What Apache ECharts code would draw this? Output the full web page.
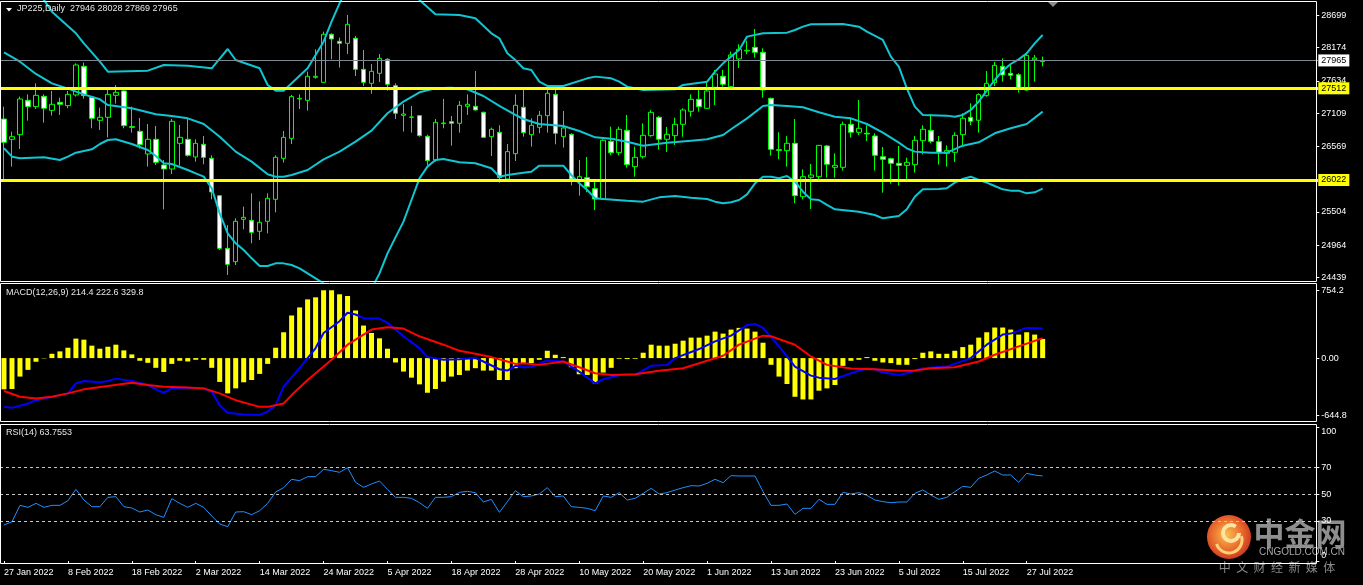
<!DOCTYPE html>
<html><head><meta charset="utf-8">
<script src="https://cdn.jsdelivr.net/npm/echarts@6/dist/echarts.min.js"></script>
<style>html,body{margin:0;padding:0;background:#000;}#c{width:1363px;height:585px;}</style>
</head><body><div id="c"></div>
<script>
const dates = ['27 Jan 2022','28 Jan 2022','31 Jan 2022',
'1 Feb 2022','2 Feb 2022','3 Feb 2022','4 Feb 2022','7 Feb 2022','8 Feb 2022','9 Feb 2022','10 Feb 2022','11 Feb 2022','14 Feb 2022','15 Feb 2022','16 Feb 2022','17 Feb 2022','18 Feb 2022','21 Feb 2022','22 Feb 2022','23 Feb 2022','24 Feb 2022','25 Feb 2022','28 Feb 2022',
'1 Mar 2022','2 Mar 2022','3 Mar 2022','4 Mar 2022','7 Mar 2022','8 Mar 2022','9 Mar 2022','10 Mar 2022','11 Mar 2022','14 Mar 2022','15 Mar 2022','16 Mar 2022','17 Mar 2022','18 Mar 2022','21 Mar 2022','22 Mar 2022','23 Mar 2022','24 Mar 2022','25 Mar 2022','28 Mar 2022','29 Mar 2022','30 Mar 2022','31 Mar 2022',
'1 Apr 2022','4 Apr 2022','5 Apr 2022','6 Apr 2022','7 Apr 2022','8 Apr 2022','11 Apr 2022','12 Apr 2022','13 Apr 2022','14 Apr 2022','18 Apr 2022','19 Apr 2022','20 Apr 2022','21 Apr 2022','22 Apr 2022','25 Apr 2022','26 Apr 2022','27 Apr 2022','28 Apr 2022','29 Apr 2022',
'2 May 2022','3 May 2022','4 May 2022','5 May 2022','6 May 2022','9 May 2022','10 May 2022','11 May 2022','12 May 2022','13 May 2022','16 May 2022','17 May 2022','18 May 2022','19 May 2022','20 May 2022','23 May 2022','24 May 2022','25 May 2022','26 May 2022','27 May 2022','30 May 2022','31 May 2022',
'1 Jun 2022','2 Jun 2022','3 Jun 2022','6 Jun 2022','7 Jun 2022','8 Jun 2022','9 Jun 2022','10 Jun 2022','13 Jun 2022','14 Jun 2022','15 Jun 2022','16 Jun 2022','17 Jun 2022','20 Jun 2022','21 Jun 2022','22 Jun 2022','23 Jun 2022','24 Jun 2022','27 Jun 2022','28 Jun 2022','29 Jun 2022','30 Jun 2022',
'1 Jul 2022','4 Jul 2022','5 Jul 2022','6 Jul 2022','7 Jul 2022','8 Jul 2022','11 Jul 2022','12 Jul 2022','13 Jul 2022','14 Jul 2022','15 Jul 2022','18 Jul 2022','19 Jul 2022','20 Jul 2022','21 Jul 2022','22 Jul 2022','25 Jul 2022','26 Jul 2022','27 Jul 2022','28 Jul 2022','29 Jul 2022'];

const open = [27013,26683,26759,27317,27214,27382,27154,27284,27230,27404,27870,27366,26992,27041,27398,27469,26889,26813,26445,26683,
26266,26201,26618,26683,26396,26602,26374,25767,24911,24695,25383,25366,25188,25350,25708,26374,26699,27339,27317,27691,
27609,28390,28276,28243,28325,27821,27593,27756,27983,27555,27073,27041,27068,26732,26347,26938,26970,26943,27219,27219,
27122,26726,26797,26038,26450,27203,26759,26878,27068,27414,26726,26764,25995,26060,25881,25713,26650,26466,26829,26239,
26401,26743,27041,26683,26743,26927,27138,27333,27187,27528,27707,27539,27989,28119,28178,28097,27349,26515,26499,26618,
25751,26065,26076,26575,26228,26228,26927,26797,26781,26737,26401,26369,26293,26260,26271,26661,26829,26645,26455,26472,
26759,27041,26992,27393,27604,27870,27756,27734,27485,27975,27946];
const high = [27214,26808,27377,27414,27593,27414,27469,27360,27469,27918,27929,27377,27198,27496,27566,27496,27214,27030,26932,26900,
26347,27013,26916,27019,26683,26737,26423,25778,25291,25399,25589,25805,25675,25805,26423,26818,27404,27414,27783,28146,
28433,28406,28335,28704,28363,28135,27907,28070,28000,27593,27257,27225,27079,26759,27013,27339,27062,27306,27414,27793,
27133,26873,26911,26607,27414,27496,27024,27144,27496,27485,27144,26781,26347,26396,25995,26683,26889,26889,27079,26564,
26943,27160,27062,26884,27035,27187,27414,27485,27620,27810,27810,28108,28227,28287,28476,28162,27360,26797,26737,27013,
26195,26282,26590,26591,26455,26970,27024,27322,26911,26781,26558,26385,26575,26385,26737,26911,27095,26737,26585,26797,
27106,27268,27431,27793,27940,28000,27891,27756,28103,28054,28028];
const low = [26022,26239,26526,26986,27176,26954,27068,27079,27187,27377,27344,26862,26835,26715,27263,26862,26791,26531,26239,26266,
25545,26120,26255,26401,26320,26277,25708,24884,24478,24640,25220,24993,25047,25155,25496,26304,26607,27176,27149,27669,
27604,27983,27848,28070,27712,27550,27425,27615,27474,27013,26808,26791,26726,26266,26320,26862,26580,26791,27079,27154,
26710,26412,25979,26030,26331,26726,26564,26781,26791,26602,26548,25935,25767,25822,25534,25697,26428,26423,26222,26076,
26369,26726,26515,26477,26591,26726,27051,27133,27180,27241,27539,27528,27842,28065,28010,27360,26418,26358,26239,25643,
25708,25551,26038,26060,26060,26174,26710,26753,26656,26174,25816,25962,25930,26022,26141,26439,26618,26271,26239,26315,
26564,26916,26791,27377,27550,27620,27658,27442,27474,27620,27869];
const close = [26634,26726,27339,27214,27398,27187,27252,27252,27414,27891,27393,27024,27041,27414,27447,26905,26878,26596,26683,26309,
26201,26976,26715,26423,26618,26390,25827,24911,24651,25350,25415,25171,25334,25724,26390,26715,27377,27349,27707,27707,
28390,28314,28243,28552,27821,27609,27788,28000,27577,27106,27095,27046,26743,26336,26959,26948,26943,27236,27252,27160,
26715,26846,26060,26483,27236,26791,26911,27073,27431,26781,26867,26038,26076,25914,25713,26667,26466,26846,26271,26390,
26748,27122,26683,26764,26927,27160,27333,27214,27469,27745,27577,28054,28146,28130,28097,27485,26520,26504,26618,25767,
26076,26103,26585,26277,26260,26927,26797,26862,26770,26423,26358,26293,26260,26309,26667,26846,26650,26472,26499,26748,
27024,26976,27409,27593,27886,27729,27723,27512,28048,28005,27965];

const bbUpper = [[0,29550],[5,28948],[6,28758],[9,28406],[10,28243],[12,27945],[13,27783],[18,27799],[20,27891],[23,27880],[26,27837],[27,27996],[28,28151],[29,27972],[32,27837],[33,27566],[34,27474],[35,27474],[36,27593],[38,27837],[40,28270],[41,28596],[42,28894],[43,29150],[46,29500],[50,29150],[52,28948],[54,28715],[57,28704],[59,28650],[61,28406],[62,28325],[63,28081],[64,27972],[65,27837],[66,27810],[67,27620],[68,27550],[70,27550],[73,27674],[74,27702],[76,27674],[77,27620],[78,27539],[80,27485],[84,27496],[85,27566],[88,27620],[89,27783],[90,27918],[92,28135],[93,28352],[95,28406],[98,28417],[99,28460],[100,28514],[101,28552],[105,28558],[107,28514],[108,28433],[110,28298],[111,28026],[112,27864],[113,27512],[114,27214],[115,27079],[118,27068],[119,27051],[120,27079],[121,27160],[122,27295],[123,27474],[124,27647],[125,27799],[126,27907],[127,27983],[128,28081],[129,28243],[130,28379]];
const bbMiddle = [[0,28097],[2,27945],[4,27745],[6,27593],[8,27507],[10,27414],[12,27333],[13,27241],[16,27187],[19,27089],[21,27062],[23,27024],[25,26932],[27,26726],[29,26483],[31,26320],[33,26114],[34,26076],[35,26076],[36,26103],[38,26185],[40,26358],[42,26483],[44,26645],[46,26824],[48,27106],[50,27295],[52,27447],[54,27512],[56,27523],[58,27496],[60,27387],[62,27225],[64,27079],[65,27013],[67,26932],[70,26900],[72,26818],[74,26715],[76,26694],[78,26645],[80,26580],[83,26629],[86,26661],[88,26683],[90,26753],[91,26846],[93,27024],[95,27225],[96,27241],[98,27225],[100,27203],[102,27122],[104,27051],[106,27024],[108,26932],[110,26791],[112,26629],[113,26537],[114,26483],[116,26466],[118,26466],[120,26580],[122,26634],[124,26781],[126,26862],[128,26932],[130,27133]];
const bbLower = [[0,26537],[1,26401],[2,26374],[5,26390],[7,26347],[8,26401],[9,26466],[11,26520],[12,26607],[13,26672],[14,26683],[16,26607],[18,26510],[19,26412],[20,26293],[21,26282],[23,26185],[24,26130],[25,26076],[26,25887],[27,25480],[28,25155],[29,24993],[30,24884],[31,24749],[32,24624],[33,24624],[34,24667],[35,24667],[36,24640],[37,24586],[38,24505],[39,24424],[40,24343],[41,24100],[42,23800],[43,23500],[44,23400],[45,23700],[46,24250],[47,24505],[48,24830],[49,25090],[50,25345],[51,25697],[52,26049],[53,26239],[54,26347],[55,26363],[57,26309],[59,26293],[61,26212],[62,26076],[63,26103],[65,26141],[66,26157],[67,26255],[70,26255],[71,26103],[72,25968],[73,25860],[74,25724],[75,25713],[78,25686],[80,25670],[82,25740],[84,25762],[86,25735],[88,25713],[89,25670],[90,25643],[91,25659],[92,25697],[93,25789],[94,25968],[95,26076],[96,26076],[97,26049],[98,26087],[99,25995],[100,25832],[101,25708],[102,25697],[103,25616],[104,25545],[107,25507],[109,25453],[110,25399],[112,25437],[113,25545],[114,25751],[115,25870],[117,25876],[118,25887],[119,25979],[120,26038],[121,26076],[122,26022],[123,25979],[124,25924],[125,25870],[126,25849],[127,25849],[128,25805],[129,25822],[130,25881]];

const macdHist = [-350,-346,-207,-132,-41,-4,48,75,116,218,206,139,105,127,150,86,41,-30,-53,-109,
-155,-65,-30,-38,-19,-19,-109,-267,-395,-339,-271,-245,-177,-65,116,289,477,567,657,680,
759,759,714,695,533,364,281,221,105,-49,-151,-219,-294,-388,-346,-264,-207,-189,-140,-113,
-140,-140,-245,-245,-113,-64,-55,-19,82,37,11,-102,-181,-189,-283,-162,-109,-8,-11,-8,
60,150,139,139,161,195,229,229,251,296,274,319,338,330,296,172,-75,-207,-290,-433,
-463,-463,-365,-339,-301,-87,-30,-19,11,-30,-49,-56,-75,-75,-11,60,75,48,48,82,
123,150,229,289,342,342,319,263,289,263,214];
const macdLine = [[0,-546],[1,-557],[3,-508],[4,-471],[6,-433],[8,-395],[9,-283],[10,-256],[12,-271],[13,-256],[14,-230],[16,-256],[18,-301],[19,-350],[20,-388],[21,-339],[25,-339],[26,-377],[27,-527],[28,-613],[30,-632],[32,-636],[33,-598],[34,-527],[35,-320],[37,-113],[39,112],[40,281],[42,413],[43,507],[44,488],[45,447],[47,443],[48,394],[50,244],[52,112],[53,11],[55,-19],[57,-12],[59,0],[60,-38],[62,-125],[63,-140],[64,-87],[65,-102],[66,-100],[68,-27],[70,-38],[72,-151],[74,-283],[75,-237],[77,-189],[79,-189],[81,-87],[83,-76],[84,0],[87,101],[89,187],[91,251],[93,368],[94,383],[95,338],[97,131],[99,-95],[101,-196],[102,-219],[104,-234],[106,-170],[108,-113],[109,-125],[110,-162],[112,-189],[113,-170],[115,-113],[118,-95],[121,0],[123,150],[125,263],[126,274],[128,338],[130,330]];
const signalLine = [[0,-369],[2,-433],[4,-452],[6,-433],[8,-395],[10,-350],[13,-313],[16,-275],[18,-301],[20,-320],[23,-328],[25,-339],[27,-395],[29,-471],[32,-546],[33,-546],[35,-508],[36,-414],[38,-245],[41,-19],[43,150],[45,263],[46,319],[48,345],[50,330],[52,244],[55,150],[57,82],[59,48],[61,11],[63,-38],[64,-65],[65,-57],[67,-76],[70,-38],[72,-102],[74,-170],[76,-189],[79,-181],[82,-143],[85,-113],[87,-57],[90,26],[92,150],[95,251],[96,244],[99,150],[101,18],[103,-76],[106,-117],[109,-125],[112,-143],[114,-140],[116,-113],[119,-102],[122,-38],[124,37],[127,131],[130,223]];

const rsi = [27,29.5,41.75,40.25,43.25,40.25,41.75,41.75,45.25,53.75,45.75,40.75,40.75,47.75,48.25,40.75,39.75,36.75,38.25,34.75,
32.75,46.75,43.25,40.25,43.25,40.25,33.75,27.75,25.75,36.75,37,34.75,37.75,43.25,51.75,55,61.25,60.25,63.25,63.25,
68.75,67.75,66.5,70,59,55.25,57.75,60,53.75,47.75,47.75,47,43.75,39.5,47.75,47.75,48.25,51.5,52.25,51.25,
44.25,46.25,36.5,44.5,52.75,48.25,48.75,50.25,55,48.25,48.75,40.75,40.25,39.5,37.75,48.75,47.75,51.25,45.75,47,
50.75,54.5,50.25,51.25,53.25,55,56.5,56.25,58.25,61.25,58.75,64,63.75,63.75,63.75,52,41.75,41.75,42.75,35,
39.5,39.5,46.25,42.5,42.5,51.5,50.25,51.25,49.25,45.75,44.5,43.75,44.25,44.25,50.75,53.25,49.5,46.25,47.75,52,
56,55.25,62,64.5,67.5,64.5,64.5,59,65.75,64.5,63.76];

const priceTicks = [28699, 28174, 27634, 27109, 26569, 25504, 24964, 24439];
const macdTicks = [754.2, 0, -644.8];
const macdTickText = ['754.2', '0.00', '-644.8'];
const rsiTicks = [100, 70, 50, 30, 0];
const rsiLevels = [70, 50, 30];
const keyLevels = [27512, 26022];
const lastPrice = 27965;
const headerText = 'JP225,Daily  27946 28028 27869 27965';
const macdText = 'MACD(12,26,9) 214.4 222.6 329.8';
const rsiText = 'RSI(14) 63.7553';

const FONT = 'Liberation Sans';
const padCount = 34;
const cats = dates.concat(Array(padCount).fill(''));
const candleData = open.map((o, i) => [o, close[i], low[i], high[i]]);
const showIdx = (i) => i % 8 === 0 && i < dates.length;

const chart = echarts.init(document.getElementById('c'));
const gridL = -1.7, gridW = 1320;
const xBase = (gi, show) => ({
  type: 'category', gridIndex: gi, data: cats, boundaryGap: true,
  axisLine: {show: false}, splitLine: {show: false},
  axisTick: {show: show, interval: showIdx, alignWithLabel: true, length: 3, lineStyle: {color: '#fff'}},
  axisLabel: {show: show, interval: showIdx, align: 'left', margin: 5, color: '#fff', fontSize: 9, fontFamily: FONT}
});
const yBase = (gi, min, max) => ({
  type: 'value', gridIndex: gi, position: 'right', min: min, max: max, offset: -2, scale: true,
  axisLine: {show: false}, splitLine: {show: false},
  axisTick: {show: true, length: 3, lineStyle: {color: '#fff'}},
  axisLabel: {show: true, margin: 5, color: '#fff', fontSize: 9, fontFamily: FONT}
});

const yMain = yBase(0, 24369, 28931);
yMain.axisTick.customValues = priceTicks;
yMain.axisLabel.customValues = priceTicks;
yMain.axisLabel.formatter = (v) => String(Math.round(v));
const yMacd = yBase(1, -712, 837);
yMacd.axisTick.customValues = macdTicks;
yMacd.axisLabel.customValues = macdTicks;
yMacd.axisLabel.formatter = (v) => { const k = macdTicks.findIndex(t => Math.abs(t - v) < 0.01); return k >= 0 ? macdTickText[k] : ''; };
const yRsi = yBase(2, -1.7, 102.5);
yRsi.axisTick.customValues = rsiTicks;
yRsi.axisLabel.customValues = rsiTicks;
yRsi.axisLabel.formatter = (v) => v === 100 ? '{t|100}' : (v === 0 ? '{b|0}' : String(v));
yRsi.axisLabel.rich = {t: {padding: [8, 0, 0, 0], color: '#fff', fontSize: 9, fontFamily: FONT}, b: {padding: [0, 0, 12, 0], color: '#fff', fontSize: 9, fontFamily: FONT}};

const bbStyle = {color: '#10C6D2', width: 2};
const option = {
  backgroundColor: '#000',
  animation: false,
  grid: [
    {left: gridL, top: 1, width: gridW, height: 280.7},
    {left: gridL, top: 283.3, width: gridW, height: 138.4},
    {left: gridL, top: 424.3, width: gridW, height: 139}
  ],
  xAxis: [xBase(0, false), xBase(1, false), xBase(2, true)],
  yAxis: [yMain, yMacd, yRsi],
  series: [
    {type: 'candlestick', xAxisIndex: 0, yAxisIndex: 0, data: candleData, barWidth: 5,
     itemStyle: {color: '#000', color0: '#fff', borderColor: '#00FF00', borderColor0: '#00FF00', borderWidth: 1}},
    {type: 'line', xAxisIndex: 0, yAxisIndex: 0, data: bbUpper, showSymbol: false, lineStyle: bbStyle, z: 3},
    {type: 'line', xAxisIndex: 0, yAxisIndex: 0, data: bbMiddle, showSymbol: false, lineStyle: bbStyle, z: 3},
    {type: 'line', xAxisIndex: 0, yAxisIndex: 0, data: bbLower, showSymbol: false, lineStyle: bbStyle, z: 3,
     markLine: {silent: true, symbol: 'none', animation: false,
       data: [
         {yAxis: lastPrice, lineStyle: {color: '#7C8894', width: 1, type: 'solid'},
          label: {position: 'end', distance: 0, formatter: String(lastPrice), color: '#000', backgroundColor: '#fff', padding: [2, 3, 1, 3], fontSize: 9, fontFamily: FONT}},
         ...keyLevels.map(v => ({yAxis: v, lineStyle: {color: '#FFFF00', width: 3, type: 'solid'},
          label: {position: 'end', distance: 0, formatter: String(v), color: '#000', backgroundColor: '#FFFF00', padding: [2, 3, 1, 3], fontSize: 9, fontFamily: FONT}}))
       ]}},
    {type: 'bar', xAxisIndex: 1, yAxisIndex: 1, data: macdHist, barWidth: 5, itemStyle: {color: '#FFFF00'}},
    {type: 'line', xAxisIndex: 1, yAxisIndex: 1, data: macdLine, showSymbol: false, lineStyle: {color: '#0000FF', width: 2}, z: 3},
    {type: 'line', xAxisIndex: 1, yAxisIndex: 1, data: signalLine, showSymbol: false, lineStyle: {color: '#FF0000', width: 2}, z: 3},
    {type: 'line', xAxisIndex: 2, yAxisIndex: 2, data: rsi, showSymbol: false, lineStyle: {color: '#1E90FF', width: 1}, z: 3,
     markLine: {silent: true, symbol: 'none', animation: false, label: {show: false},
       lineStyle: {color: '#C8C8C8', width: 1, type: [3, 3]},
       data: rsiLevels.map(v => ({yAxis: v}))}}
  ],
  graphic: [
    {type: 'rect', silent: true, z: 10, shape: {x: 0.5, y: 1.5, width: 1316, height: 280}, style: {fill: 'none', stroke: '#fff', lineWidth: 1}},
    {type: 'rect', silent: true, z: 10, shape: {x: 0.5, y: 283.5, width: 1316, height: 138}, style: {fill: 'none', stroke: '#fff', lineWidth: 1}},
    {type: 'rect', silent: true, z: 10, shape: {x: 0.5, y: 424.5, width: 1316, height: 139}, style: {fill: 'none', stroke: '#fff', lineWidth: 1}},
    {type: 'polygon', silent: true, z: 10, shape: {points: [[6, 8], [12, 8], [9, 11.5]]}, style: {fill: '#fff'}},
    {type: 'polygon', silent: true, z: 10, shape: {points: [[1048, 2], [1058, 2], [1053, 7]]}, style: {fill: '#8A8A8A'}},
    {type: 'text', silent: true, z: 10, left: 17, top: 4, style: {text: headerText, fill: '#E6E6E6', font: '9px "Liberation Sans"'}},
    {type: 'text', silent: true, z: 10, left: 6, top: 288, style: {text: macdText, fill: '#E6E6E6', font: '9px "Liberation Sans"'}},
    {type: 'text', silent: true, z: 10, left: 6, top: 428, style: {text: rsiText, fill: '#E6E6E6', font: '9px "Liberation Sans"'}},
    {type: 'group', silent: true, z: 20, children: [
      {type: 'circle', shape: {cx: 1229, cy: 537, r: 22}, style: {fill: {type: 'radial', x: 0.45, y: 0.45, r: 0.6, colorStops: [{offset: 0, color: '#F8C050'}, {offset: 0.55, color: '#EB6F2E'}, {offset: 1, color: '#C8321F'}]}}},
      {type: 'arc', shape: {cx: 1231, cy: 533, r: 8, startAngle: 0, endAngle: Math.PI * 1.7}, style: {stroke: '#FCE3A0', lineWidth: 4, fill: 'none'}},
      {type: 'arc', shape: {cx: 1229, cy: 540, r: 13, startAngle: -0.3, endAngle: Math.PI * 0.9}, style: {stroke: '#FCD27A', lineWidth: 3, fill: 'none'}},
      {type: 'text', x: 1300, y: 533, style: {text: '中金网', fill: '#8E8E8E', font: 'bold 31px "Noto Sans CJK SC"', align: 'center', verticalAlign: 'middle'}},
      {type: 'text', x: 1302, y: 552, style: {text: 'CNGOLD.COM.CN', fill: '#A6A6A6', font: '10px "Liberation Sans"', align: 'center', verticalAlign: 'middle'}},
      {type: 'text', x: 1277, y: 567, style: {text: '中  文  财  经  新  媒  体', fill: '#8A8A8A', font: '12px "Noto Sans CJK SC"', align: 'center', verticalAlign: 'middle'}}
    ]}
  ]
};
chart.setOption(option);
</script></body></html>
